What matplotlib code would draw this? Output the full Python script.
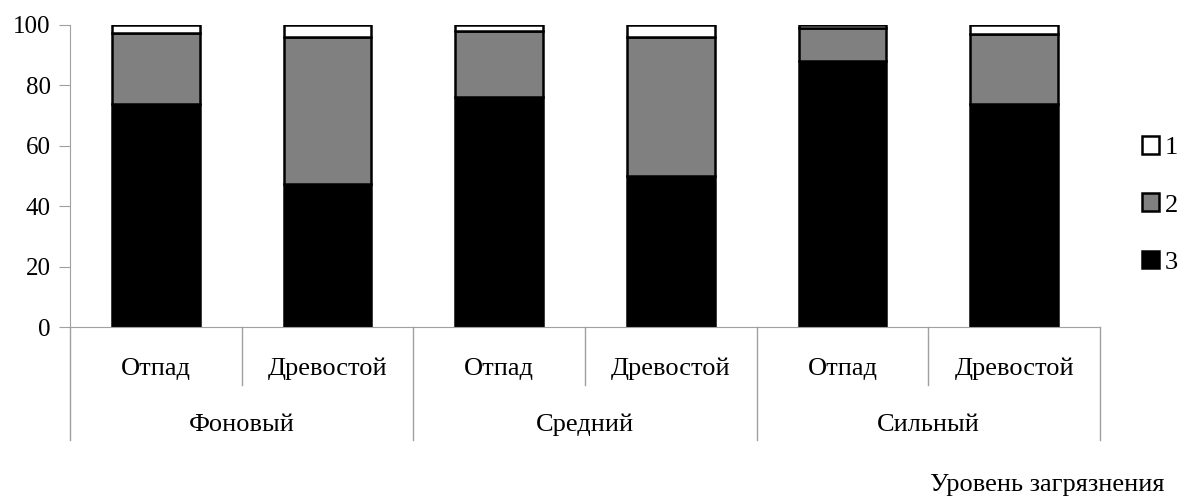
import numpy as np
import matplotlib
matplotlib.use("Agg")
import matplotlib.pyplot as plt
import matplotlib.transforms as mtransforms

plt.rcParams['font.family'] = ['Liberation Serif', 'DejaVu Serif']

groups = ['Фоновый', 'Средний', 'Сильный']
subcats = ['Отпад', 'Древостой']
s3 = [74, 47.5, 76, 50, 88, 74]
s2 = [23.5, 48.5, 22, 46, 11, 23]
s1 = [2.5, 4, 2, 4, 1, 3]
series_names = ['1', '2', '3']

fig = plt.figure(figsize=(11.82, 4.99), dpi=100)
ax = fig.add_axes([70 / 1182, 1 - 327 / 499, 1030 / 1182, 302 / 499])

x = np.arange(len(s3))
w = 0.51
b3 = ax.bar(x, s3, w, color='black', edgecolor='black', linewidth=1.8, label='3')
b2 = ax.bar(x, s2, w, bottom=s3, color='#808080', edgecolor='black', linewidth=1.8, label='2')
bot1 = np.array(s3) + np.array(s2)
b1 = ax.bar(x, s1, w, bottom=bot1, color='white', edgecolor='black', linewidth=1.8, label='1')

ax.set_xlim(-0.5, len(s3) - 0.5)
ax.set_ylim(0, 100)
ax.set_yticks(range(0, 101, 20))
ax.tick_params(axis='y', labelsize=18, length=8, color='#a0a0a0', pad=6)
ax.set_xticks([])
for sp in ['top', 'right']:
    ax.spines[sp].set_visible(False)
for sp in ['left', 'bottom']:
    ax.spines[sp].set_color('#a0a0a0')
ax.spines['left'].set_bounds(0, 100)

# category axis below the plot
trans = mtransforms.blended_transform_factory(ax.transData, fig.transFigure)
y0 = 1 - 327 / 499
y_sub = 1 - 385 / 499
y_grp = 1 - 440 / 499
for i in range(len(s3) + 1):
    xb = i - 0.5
    yb = y_grp if i % 2 == 0 else y_sub
    ax.plot([xb, xb], [y0, yb], transform=trans, color='#a0a0a0', lw=1, clip_on=False)
for i in range(len(s3)):
    ax.text(i, 1 - 369 / 499, subcats[i % 2], transform=trans, ha='center', va='center', fontsize=19)
for g, name in enumerate(groups):
    ax.text(2 * g + 0.5, 1 - 425 / 499, name, transform=trans, ha='center', va='center', fontsize=19)

fig.text(1047 / 1182, 1 - 485 / 499, 'Уровень загрязнения', ha='center', va='center', fontsize=19)

ax.legend(handles=[b1, b2, b3], labels=series_names, loc='center left',
          bbox_to_anchor=(1142 / 1182, 1 - 205 / 499), bbox_transform=fig.transFigure,
          frameon=False, fontsize=19, handlelength=0.65, handleheight=0.65,
          handletextpad=0.2, labelspacing=1.3, borderaxespad=0, borderpad=0)

fig.savefig('out.png', dpi=100)
